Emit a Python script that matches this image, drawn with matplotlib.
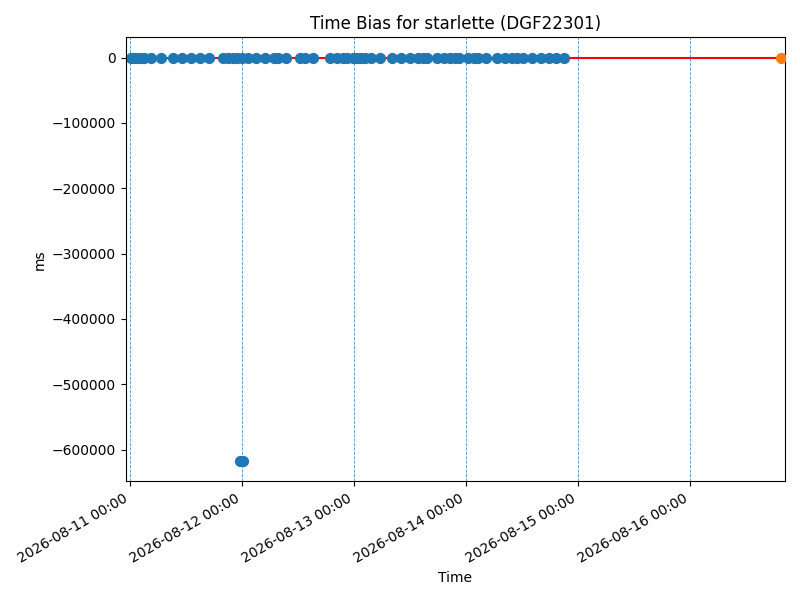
import matplotlib
matplotlib.use("Agg")
import matplotlib.pyplot as plt
import matplotlib.dates as mdates
import numpy as np
import pandas as pd

# measurement times (hours after 2026-08-11 00:00) and time bias in ms
hours = [0.2, 0.8, 1.3, 2.1, 3.0, 4.5, 6.6, 9.2, 11.1, 13.1, 15.0, 17.0, 20.0,
         21.1, 22.1, 23.0, 24.1, 25.3, 27.0, 29.0, 30.9, 31.8, 33.5, 36.4, 37.5,
         39.2, 42.9, 44.4, 45.6, 46.5, 47.8, 48.7, 49.5, 50.4, 51.6, 53.6, 56.1,
         58.1, 60.0, 61.7, 62.8, 63.6, 65.8, 67.3, 68.6, 69.6, 70.5, 72.4, 73.7,
         74.6, 76.3, 78.6, 80.4, 81.9, 82.9, 84.2, 86.1, 88.1, 89.7, 91.2, 92.9]
bias = [0.0] * len(hours)
# the two outliers near 2026-08-12 00:00
outlier_hours = [23.6, 24.3]
outlier_bias = [-618000, -618000]

start = pd.Timestamp("2026-08-11 00:00")
end_time = pd.Timestamp("2026-08-16 19:30")
xlim = (pd.Timestamp("2026-08-10 23:08"), pd.Timestamp("2026-08-16 20:21"))
day_lines = pd.date_range("2026-08-11", "2026-08-16", freq="D")

all_hours = hours + outlier_hours
all_bias = bias + outlier_bias
times = [start + pd.Timedelta(hours=h) for h in all_hours]

fig, ax = plt.subplots(figsize=(8, 6), dpi=100)

for d in day_lines:
    ax.axvline(d, color="C0", linestyle="--", linewidth=0.6, alpha=0.8)

ax.plot([times[0], end_time], [0, 0], color="red", zorder=1)
ax.scatter(times, all_bias, s=50, color="C0", zorder=2)
ax.scatter([end_time], [0], s=50, color="C1", zorder=3)

ax.set_xlim(xlim)
ax.xaxis.set_major_locator(mdates.DayLocator())
ax.xaxis.set_major_formatter(mdates.DateFormatter("%Y-%m-%d %H:%M"))
fig.autofmt_xdate()

ax.set_title("Time Bias for starlette (DGF22301)")
ax.set_xlabel("Time")
ax.set_ylabel("ms")

fig.tight_layout()
plt.savefig("out.png")
